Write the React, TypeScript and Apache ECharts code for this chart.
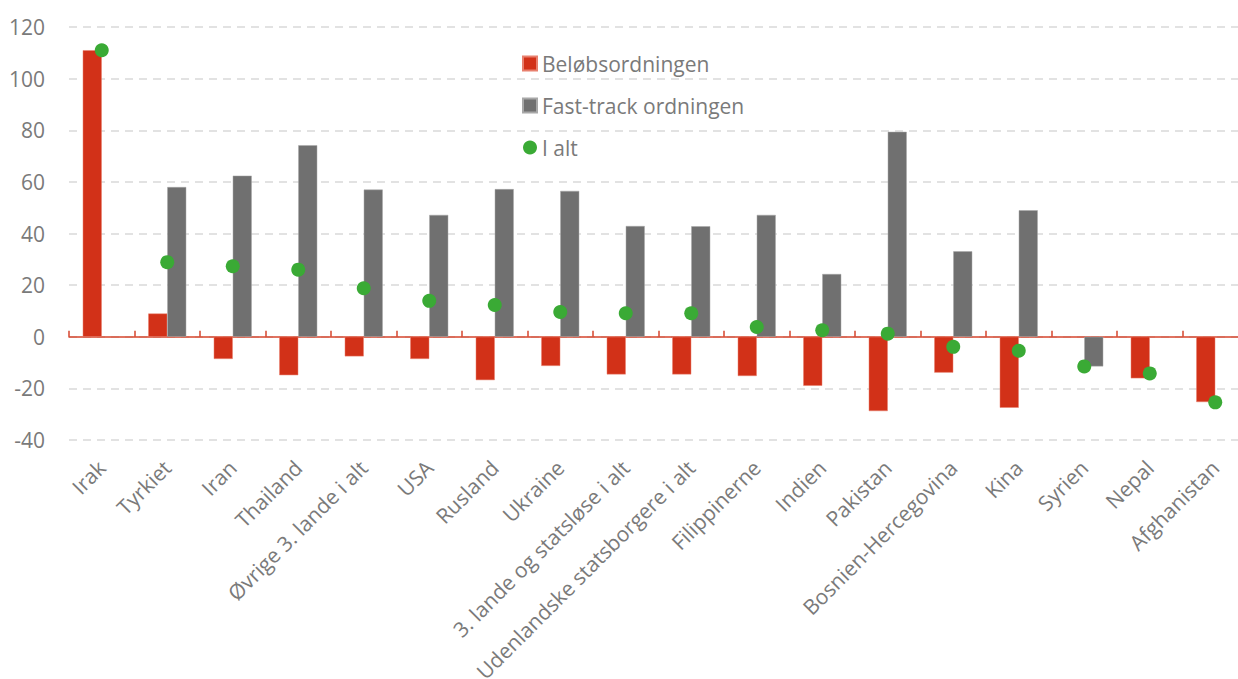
import React, { useEffect, useRef } from "react";
import * as echarts from "echarts";

const categories = [
  "Irak", "Tyrkiet", "Iran", "Thailand", "Øvrige 3. lande i alt", "USA", "Rusland", "Ukraine",
  "3. lande og statsløse i alt", "Udenlandske statsborgere i alt", "Filippinerne", "Indien",
  "Pakistan", "Bosnien-Hercegovina", "Kina", "Syrien", "Nepal", "Afghanistan",
];
const beloebsordningen = [111, 9, -8.6, -14.9, -7.6, -8.6, -16.8, -11.3, -14.6, -14.6, -15.2, -19, -28.8, -13.9, -27.5, null, -16.1, -25.3];
const fastTrack = [null, 58, 62.4, 74.2, 57, 47.2, 57.2, 56.5, 42.9, 42.8, 47.2, 24.3, 79.4, 33.1, 49, -11.5, null, null];
const iAlt = [111, 28.9, 27.3, 26, 18.8, 13.9, 12.3, 9.6, 9.1, 9.1, 3.8, 2.5, 1.2, -3.9, -5.4, -11.5, -14.2, -25.4];
const yMin = -40;
const yMax = 120;
const yInterval = 20;

const FONT = "'Open Sans', 'Noto Sans', sans-serif";
const TXT = "#7a7a7a";

export default function App() {
  const ref = useRef<HTMLDivElement>(null);
  useEffect(() => {
    if (!ref.current) return;
    const chart = echarts.init(ref.current, undefined, { renderer: "svg" });
    chart.setOption({
      animation: false,
      textStyle: { fontFamily: FONT },
      legend: {
        orient: "vertical",
        left: 517,
        top: 48,
        itemGap: 21,
        itemWidth: 14,
        itemHeight: 14,
        textStyle: { color: TXT, fontSize: 21, fontFamily: FONT },
        data: [
          { name: "Beløbsordningen", icon: "rect" },
          { name: "Fast-track ordningen", icon: "rect" },
          { name: "I alt", icon: "circle" },
        ],
      },
      grid: { left: 69, right: -10, top: 27, bottom: 239, containLabel: false, outerBoundsMode: "none" },
      xAxis: [
        {
          type: "category",
          data: categories,
          position: "bottom",
          axisLine: { onZero: true, lineStyle: { color: "#d6452c", width: 1.5 } },
          axisTick: { show: true, inside: true, interval: 0, length: 6, lineStyle: { color: "#d6452c", width: 1.5 } },
          axisLabel: { show: false, interval: 0 },
        },
        {
          type: "category",
          data: categories,
          position: "bottom",
          axisLine: { show: false, onZero: false },
          axisTick: { show: false },
          axisLabel: {
            show: true,
            interval: 0,
            rotate: 45,
            margin: 24,
            color: TXT,
            fontSize: 21,
            fontFamily: FONT,
          },
        },
      ],
      yAxis: {
        type: "value",
        min: yMin,
        max: yMax,
        interval: yInterval,
        axisLine: { show: false },
        axisTick: { show: false },
        axisLabel: { color: TXT, fontSize: 21, margin: 24, fontFamily: FONT },
        splitLine: { lineStyle: { color: "#d9d9d9", type: [8, 6], width: 1.5 } },
      },
      series: [
        {
          name: "Beløbsordningen",
          type: "bar",
          data: beloebsordningen,
          barWidth: 19,
          barGap: "0%",
          itemStyle: { color: "#d23118", borderColor: "#e8806e", borderWidth: 0.5 },
        },
        {
          name: "Fast-track ordningen",
          type: "bar",
          data: fastTrack,
          barWidth: 19,
          barGap: "0%",
          itemStyle: { color: "#707070", borderColor: "#a8a8a8", borderWidth: 0.5 },
        },
        {
          name: "I alt",
          type: "scatter",
          data: iAlt,
          symbol: "circle",
          symbolSize: 14,
          itemStyle: { color: "#3aaa35", opacity: 1 },
          z: 5,
        },
      ],
    });
    return () => chart.dispose();
  }, []);
  return (
    <div
      ref={ref}
      style={{ position: "fixed", left: 0, top: 0, width: 1238, height: 679, background: "#fff" }}
    />
  );
}
